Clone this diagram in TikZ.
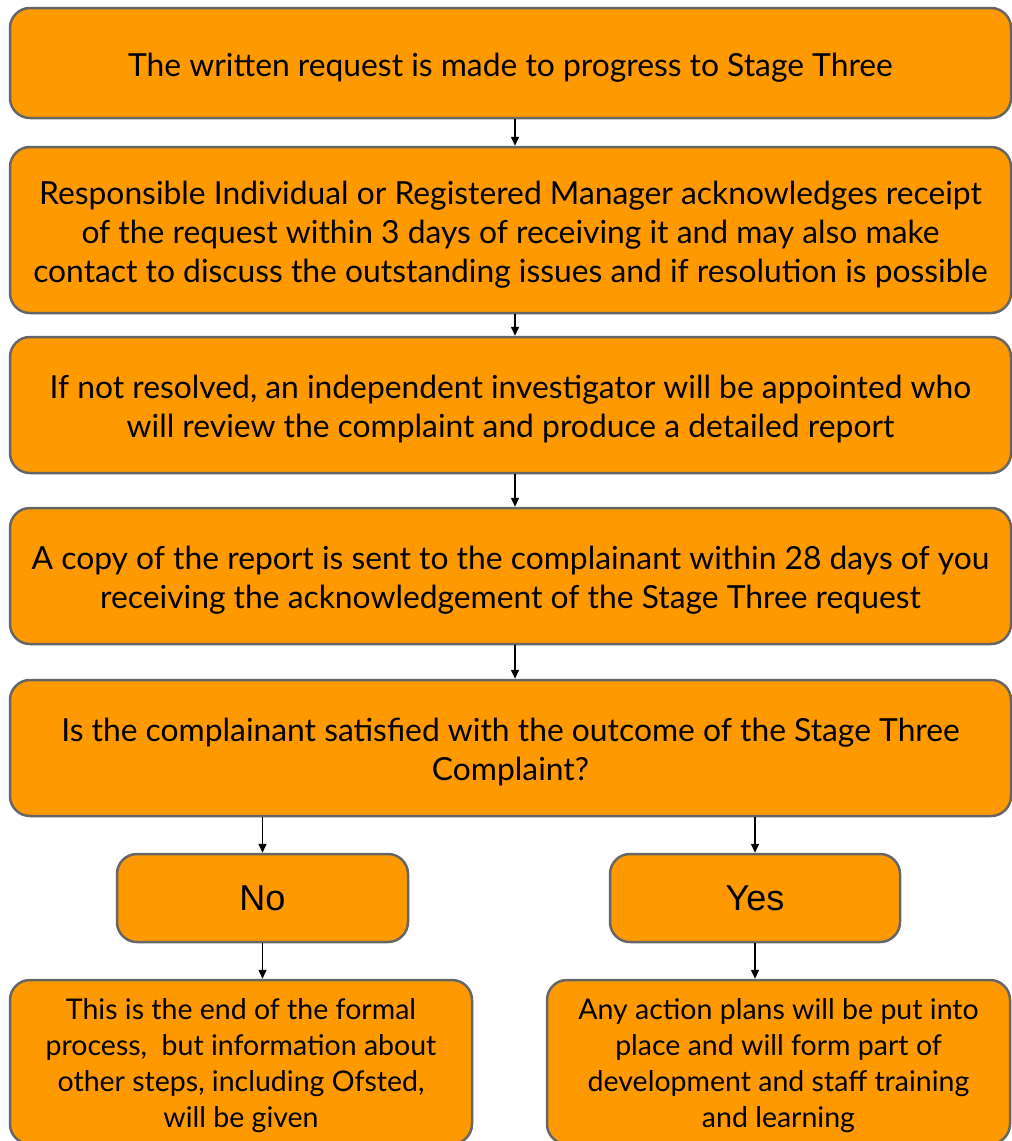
\documentclass[tikz,border=0pt]{standalone}
\usepackage{fontspec}
\setmainfont{Lato}
\newfontfamily\arialfont{Liberation Sans}
\usetikzlibrary{arrows.meta}
\definecolor{boxorange}{HTML}{FF9900}
\definecolor{boxedge}{HTML}{666666}
\newcommand\lift{\rule{0pt}{1em}}
\begin{document}
\begin{tikzpicture}[x=1pt,y=-1pt]
        \useasboundingbox (0,0) rectangle (1012,1141);

        \begin{scope}[every node/.style={rectangle,rounded corners=20pt,draw=boxedge,line width=2.5pt,fill=boxorange,
            inner sep=0pt,align=center,font=\fontsize{31.8}{39}\selectfont}]
          \node[minimum width=1001pt,minimum height=110pt] (1) at (510.5,63)
            {\lift The written request is made to progress to Stage Three};
          \node[minimum width=1001pt,minimum height=166pt] (2) at (510.5,230)
            {\lift Responsible Individual or Registered Manager acknowledges receipt\\
             of the request within 3 days of receiving it and may also make\\
             contact to discuss the outstanding issues and if resolution is possible};
          \node[minimum width=1001pt,minimum height=136pt] (3) at (510.5,405)
            {\lift If not resolved, an independent investigator will be appointed who\\
             will review the complaint and produce a detailed report};
          \node[minimum width=1001pt,minimum height=136pt] (4) at (510.5,576)
            {\lift A copy of the report is sent to the complainant within 28 days of you\\
             receiving the acknowledgement of the Stage Three request};
          \node[minimum width=1001pt,minimum height=136pt] (5) at (510.5,748)
            {\lift Is the complainant satisfied with the outcome of the Stage Three\\
             Complaint?};
          \node[minimum width=291pt,minimum height=88pt,font=\arialfont\fontsize{36}{40}\selectfont] (6) at (262.5,898) {No};
          \node[minimum width=290pt,minimum height=88pt,font=\arialfont\fontsize{36}{40}\selectfont] (7) at (755,898) {Yes};
          \node[minimum width=462pt,minimum height=164pt,font=\fontsize{28.5}{36}\selectfont] (8) at (241,1062)
            {\lift This is the end of the formal\\
             process,\ \ but information about\\
             other steps, including Ofsted,\\
             will be given};
          \node[minimum width=463pt,minimum height=164pt,font=\fontsize{28.5}{36}\selectfont] (9) at (778.5,1062)
            {\lift Any action plans will be put into\\
             place and will form part of\\
             development and staff training\\
             and learning};
        \end{scope}

        \begin{scope}[every path/.style={draw,line width=1.5pt,-{Triangle[length=9pt,width=8pt]}}]
          \path (1.south -| 515,0) -- (2.north -| 515,0);
          \path (2.south -| 515,0) -- (3.north -| 515,0);
          \path (3.south -| 515,0) -- (4.north -| 515,0);
          \path (4.south -| 515,0) -- (5.north -| 515,0);
          \path (5.south -| 6) -- (6);
          \path (5.south -| 7) -- (7);
          \path (6) -- (6 |- 8.north);
          \path (7) -- (7 |- 9.north);
        \end{scope}

      \end{tikzpicture}
\end{document}
